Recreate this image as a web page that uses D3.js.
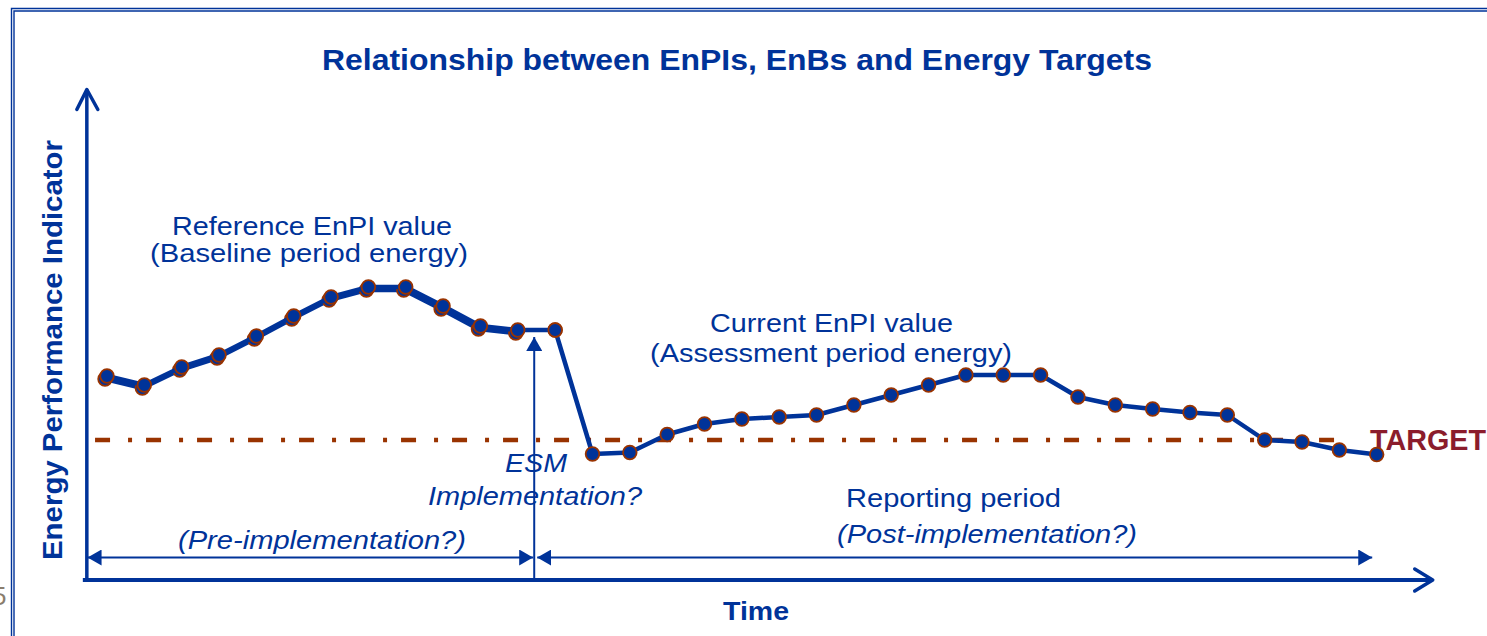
<!DOCTYPE html>
<html>
<head>
<meta charset="utf-8">
<script src="https://cdn.jsdelivr.net/npm/d3@7"></script>
<style>
  html, body { margin: 0; padding: 0; background: #fff; overflow: hidden; }
  svg { display: block; font-family: Arial, "Liberation Sans", sans-serif; }
</style>
</head>
<body>
<div id="canvas"></div>
<script>
const baselineTime = [0, 1, 2, 3, 4, 5, 6, 7, 8, 9, 10, 11, 12];
const baselineValues = [40.8, 39, 42.6, 45, 48.8, 52.8, 56.6, 58.6, 58.6, 54.8, 50.8, 50, 50];
const currentTime = [12, 13, 14, 15, 16, 17, 18, 19, 20, 21, 22, 23, 24, 25, 26, 27, 28, 29, 30, 31, 32, 33, 34];
const currentValues = [50, 25.2, 25.5, 29.1, 31.2, 32.2, 32.6, 33, 35, 37, 39, 41, 41, 41, 36.6, 35, 34.2, 33.5, 33, 28, 27.6, 26, 25.1];
const targetValue = 28;
const targetSpan = [-0.32, 33.15];
const esmTime = 11.44;
const periodSpan = [-0.52, 33.88];
const axisSpan = [-0.54, 35.5];
const axisTop = 98.1;

const blue = "#003399";
const brown = "#993300";

const width = 1487, height = 636;
const svg = d3.select("#canvas")
  .append("svg")
  .attr("width", width)
  .attr("height", height);

const x = d3.scaleLinear().domain([0, 34]).range([107, 1376.7]);
const y = d3.scaleLinear().domain([0, 100]).range([580, 80]);

// slide frame (double line)
svg.append("path").attr("d", "M11.5,636 V8.5 H1487")
  .attr("fill", "none").attr("stroke", blue).attr("stroke-width", 1.4);
svg.append("path").attr("d", "M14,636 V11 H1487")
  .attr("fill", "none").attr("stroke", blue).attr("stroke-width", 1.4);

// page number, mostly cut off like on the slide
svg.append("text").attr("x", -8).attr("y", 605)
  .attr("font-size", 26).attr("fill", "#8a7d6d").text("5");

// title
svg.append("text")
  .attr("x", 322).attr("y", 70)
  .attr("textLength", 830).attr("lengthAdjust", "spacingAndGlyphs")
  .attr("font-size", 30).attr("font-weight", "bold").attr("fill", blue)
  .text("Relationship between EnPIs, EnBs and Energy Targets");

// axes with open arrow heads
const axes = svg.append("g").attr("fill", "none").attr("stroke", blue);
axes.append("line")
  .attr("x1", x(axisSpan[0])).attr("x2", x(axisSpan[0]))
  .attr("y1", y(0) + 2).attr("y2", y(axisTop))
  .attr("stroke-width", 3.5);
axes.append("line")
  .attr("x1", x(axisSpan[0]) - 4).attr("x2", x(axisSpan[1]))
  .attr("y1", y(0)).attr("y2", y(0))
  .attr("stroke-width", 4);
axes.append("path")
  .attr("d", `M${x(axisSpan[0]) - 10},${y(axisTop) + 20} L${x(axisSpan[0])},${y(axisTop)} L${x(axisSpan[0]) + 11},${y(axisTop) + 20}`)
  .attr("stroke-width", 3.5).attr("stroke-linecap", "round").attr("stroke-linejoin", "round");
axes.append("path")
  .attr("d", `M${x(axisSpan[1]) - 18},${y(0) - 11} L${x(axisSpan[1])},${y(0)} L${x(axisSpan[1]) - 18},${y(0) + 11}`)
  .attr("stroke-width", 3.5).attr("stroke-linecap", "round").attr("stroke-linejoin", "round");

// target line
svg.append("line")
  .attr("x1", x(targetSpan[0])).attr("x2", x(targetSpan[1]))
  .attr("y1", y(targetValue)).attr("y2", y(targetValue))
  .attr("stroke", brown).attr("stroke-width", 4.5)
  .attr("stroke-dasharray", "15 18 4 14");

svg.append("text")
  .attr("x", 1370).attr("y", 450)
  .attr("textLength", 116).attr("lengthAdjust", "spacingAndGlyphs")
  .attr("font-size", 29).attr("font-weight", "bold").attr("fill", "#8b1c2c")
  .text("TARGET");

// arrow markers
const defs = svg.append("defs");
defs.append("marker").attr("id", "tri")
  .attr("viewBox", "0 0 14 16").attr("refX", 14).attr("refY", 8)
  .attr("markerWidth", 14).attr("markerHeight", 16)
  .attr("markerUnits", "userSpaceOnUse").attr("orient", "auto-start-reverse")
  .append("path").attr("d", "M0,0 L14,8 L0,16 Z").attr("fill", blue);

// ESM implementation arrow
svg.append("line")
  .attr("x1", x(esmTime)).attr("x2", x(esmTime))
  .attr("y1", y(0)).attr("y2", 337)
  .attr("stroke", blue).attr("stroke-width", 2)
  .attr("marker-end", "url(#tri)");

// period arrows
const periodY = 557.5;
svg.append("line")
  .attr("x1", x(periodSpan[0])).attr("x2", x(esmTime) - 1)
  .attr("y1", periodY).attr("y2", periodY)
  .attr("stroke", blue).attr("stroke-width", 2)
  .attr("marker-start", "url(#tri)").attr("marker-end", "url(#tri)");
svg.append("line")
  .attr("x1", x(esmTime) + 3).attr("x2", x(periodSpan[1]))
  .attr("y1", periodY).attr("y2", periodY)
  .attr("stroke", blue).attr("stroke-width", 2)
  .attr("marker-start", "url(#tri)").attr("marker-end", "url(#tri)");

// series
const baseline = baselineTime.map((t, i) => ({ t: t, v: baselineValues[i] }));
const current = currentTime.map((t, i) => ({ t: t, v: currentValues[i] }));
const line = d3.line().x(d => x(d.t)).y(d => y(d.v));

function drawSeries(g, data) {
  g.append("path").datum(data)
    .attr("d", line)
    .attr("fill", "none").attr("stroke", blue)
    .attr("stroke-width", 4.5).attr("stroke-linejoin", "round");
  g.selectAll("circle").data(data).enter().append("circle")
    .attr("cx", d => x(d.t)).attr("cy", d => y(d.v))
    .attr("r", 6.8)
    .attr("fill", blue).attr("stroke", brown).attr("stroke-width", 1.8);
}

// the baseline is drawn twice, the copy slightly shifted like in the slide
drawSeries(svg.append("g").attr("transform", "translate(-2,3)"), baseline.slice(0, 12));
drawSeries(svg.append("g"), current);
drawSeries(svg.append("g"), baseline);

// labels
function label(txt, px, py, len, opts) {
  const o = opts || {};
  return svg.append("text")
    .attr("x", px).attr("y", py)
    .attr("textLength", len).attr("lengthAdjust", "spacingAndGlyphs")
    .attr("font-size", o.size || 25)
    .attr("font-weight", o.bold ? "bold" : null)
    .attr("font-style", o.italic ? "italic" : null)
    .attr("fill", blue)
    .text(txt);
}

label("Reference EnPI value", 172, 235, 280);
label("(Baseline period energy)", 150, 262, 318);
label("Current EnPI value", 710, 332, 243);
label("(Assessment period energy)", 650, 362, 362);
label("ESM", 505, 472, 62, { italic: true });
label("Implementation?", 428, 505, 214, { italic: true });
label("(Pre-implementation?)", 178, 549, 288, { italic: true });
label("Reporting period", 846, 507, 215);
label("(Post-implementation?)", 837, 543, 300, { italic: true });
label("Time", 723, 620, 66, { bold: true, size: 26 });

svg.append("text")
  .attr("transform", "translate(62,350) rotate(-90)")
  .attr("text-anchor", "middle")
  .attr("textLength", 420).attr("lengthAdjust", "spacingAndGlyphs")
  .attr("font-size", 27).attr("font-weight", "bold").attr("fill", blue)
  .text("Energy Performance Indicator");
</script>
</body>
</html>
